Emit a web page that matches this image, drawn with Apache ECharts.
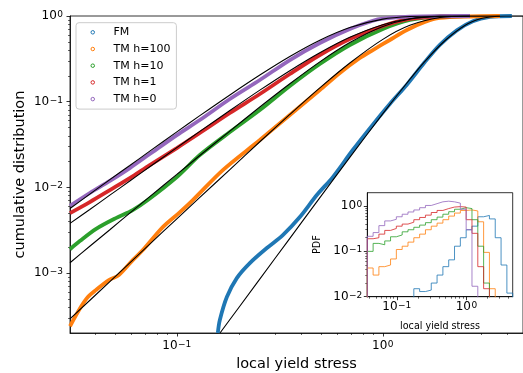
<!DOCTYPE html>
<html>
<head>
<meta charset="utf-8">
<script src="https://cdn.jsdelivr.net/npm/echarts@6/dist/echarts.min.js"></script>
<style>
  html, body { margin: 0; padding: 0; background: #fff; }
  #chart { width: 523px; height: 373px; }
</style>
</head>
<body>
<div id="chart"></div>
<script>
// ---- values ----
const seriesNames = ['FM', 'TM h=100', 'TM h=10', 'TM h=1', 'TM h=0'];

// cumulative distribution, [local yield stress, F]
const cdfFM = [[0.1581,0.0002],[0.1617,0.000283],[0.1749,0.000525],[0.1955,0.000874],[0.2261,0.001308],
  [0.2734,0.001959],[0.327,0.002778],[0.3955,0.004507],[0.4782,0.00814],[0.5719,0.0132],[0.7149,0.0273],
  [0.8943,0.054],[1.081,0.094],[1.308,0.158],[1.599,0.29],[1.891,0.46],[2.287,0.68],[2.735,0.87],
  [3.307,0.975],[4.228,1.0]];
const cdfH100 = [[0.0303,0.00024],[0.0342,0.000401],[0.037,0.000525],[0.0404,0.000633],[0.0468,0.000829],
  [0.0523,0.000948],[0.0611,0.001418],[0.0684,0.001856],[0.0855,0.003444],[0.1023,0.00502],[0.1196,0.00712],
  [0.1672,0.01594],[0.2529,0.0357],[0.3536,0.0699],[0.4944,0.1368],[0.6183,0.2161],[0.7732,0.3233],
  [0.8943,0.401],[1.081,0.5247],[1.308,0.6865],[1.599,0.851],[1.891,0.948],[2.644,0.987],[3.698,1.0]];
const cdfH10 = [[0.0303,0.0019],[0.0338,0.002363],[0.0404,0.003264],[0.0506,0.004386],[0.0611,0.005438],
  [0.0723,0.00712],[0.1,0.0132],[0.1293,0.02385],[0.1809,0.04426],[0.2529,0.0799],[0.3536,0.1524],
  [0.4944,0.2753],[0.6915,0.4586],[1.0,0.705],[1.352,0.898],[1.891,0.987],[2.644,1.0]];
const cdfH1 = [[0.0303,0.00502],[0.0378,0.00675],[0.0473,0.00931],[0.0591,0.01285],[0.0739,0.01823],
  [0.1,0.0288],[0.1293,0.0431],[0.1809,0.0738],[0.2529,0.1229],[0.3536,0.2104],[0.4944,0.3506],
  [0.6915,0.539],[1.0,0.764],[1.352,0.923],[1.891,0.987],[2.644,1.0]];
const cdfH0 = [[0.0303,0.0061],[0.0378,0.0086],[0.0473,0.0119],[0.0591,0.0168],[0.0739,0.0245],
  [0.1,0.0408],[0.1293,0.0611],[0.1809,0.1075],[0.2529,0.179],[0.3536,0.3065],[0.4944,0.484],
  [0.6915,0.705],[0.8943,0.88],[1.0,0.93],[1.352,0.985],[1.891,0.999],[2.644,1.0]];

// black fitted curves
const fitFM = [[0.162,0.0002],[0.2,0.000397],[0.3,0.00149],[0.4,0.0038],[0.5,0.00787],[0.7,0.0233],
  [1.0,0.0726],[1.3,0.162],[1.6,0.295],[2.0,0.514],[2.5,0.776],[3.0,0.933],[3.5,0.9887],[4.0,0.999],[4.79,1.0]];
const fitH100 = [[0.0303,0.000292],[0.0473,0.000797],[0.0739,0.002178],[0.1,0.0043],[0.1293,0.00763],
  [0.1809,0.01616],[0.2529,0.0341],[0.3536,0.071],[0.4944,0.145],[0.6915,0.283],[1.0,0.534],[1.352,0.778],
  [1.891,0.9594],[2.644,0.9989],[3.698,1.0]];
const fitH10 = [[0.0303,0.00132],[0.0378,0.002056],[0.0473,0.003209],[0.0591,0.005008],[0.0739,0.00782],
  [0.1,0.01417],[0.1293,0.02354],[0.1809,0.04542],[0.2529,0.0867],[0.3536,0.162],[0.4944,0.2919],
  [0.6915,0.49],[1.0,0.7546],[1.352,0.923],[1.891,0.9933],[2.644,1.0]];
const fitH1 = [[0.0303,0.0038],[0.0378,0.00552],[0.0473,0.00812],[0.0591,0.01187],[0.0739,0.0174],
  [0.1,0.02914],[0.1293,0.04503],[0.1809,0.0789],[0.2529,0.1364],[0.3536,0.2302],[0.4944,0.3729],
  [0.6915,0.565],[1.0,0.7926],[1.352,0.9293],[1.891,0.9911],[2.644,0.9998],[3.698,1.0]];
const fitH0 = [[0.0303,0.00567],[0.0378,0.00835],[0.0473,0.01233],[0.0591,0.018],[0.0739,0.0265],
  [0.1,0.04445],[0.1293,0.0687],[0.1809,0.1199],[0.2529,0.2047],[0.3536,0.337],[0.4944,0.5216],
  [0.6915,0.7337],[1.0,0.9192],[1.352,0.9859],[1.891,0.9995],[2.644,1.0]];

// inset: histogram bin edges and PDF per bin (0 = empty bin)
const binEdges = [0.0377,0.0457,0.0553,0.0671,0.0813,0.0985,0.1194,0.1447,0.1754,0.2126,0.2576,0.3122,
  0.3784,0.4586,0.5559,0.6736,0.8166,0.9897,1.1995,1.4538,1.762,2.1355,2.588,3.137,3.802,4.608];
const pdfFM = [0,0,0,0,0,0,0,0,0.015,0.013,0.014,0.02,0.03,0.046,0.065,0.13,0.2,0.3,0.36,0.58,0.62,0.52,0.2,0.05,0.012];
const pdfH100 = [0.043,0.03,0.046,0.05,0.068,0.11,0.13,0.16,0.2,0.24,0.3,0.36,0.42,0.5,0.6,0.7,0.8,0.82,0.78,0.45,0.095,0.015,0,0,0];
const pdfH10 = [0.1,0.15,0.14,0.17,0.21,0.23,0.27,0.3,0.34,0.38,0.43,0.5,0.57,0.66,0.75,0.85,0.92,0.88,0.5,0.13,0.02,0,0,0,0];
const pdfH1 = [0.19,0.2,0.24,0.29,0.32,0.36,0.4,0.44,0.5,0.56,0.63,0.72,0.8,0.88,0.95,0.97,0.95,0.5,0.25,0.046,0.015,0,0,0,0];
const pdfH0 = [0.215,0.26,0.37,0.47,0.51,0.58,0.66,0.74,0.82,0.92,1.03,1.13,1.24,1.28,1.24,1.16,0.85,0.3,0.017,0,0,0,0,0,0];

const mainXTicks = [0.1, 1];
const mainYTicks = [0.001, 0.01, 0.1, 1];
const mainXMinor = [0.04,0.05,0.06,0.07,0.08,0.09,0.2,0.3,0.4,0.5,0.6,0.7,0.8,0.9,2,3,4];
const mainYMinor = [0.0003,0.0004,0.0005,0.0006,0.0007,0.0008,0.0009,0.002,0.003,0.004,0.005,0.006,0.007,0.008,0.009,
  0.02,0.03,0.04,0.05,0.06,0.07,0.08,0.09,0.2,0.3,0.4,0.5,0.6,0.7,0.8,0.9];
const insetXTicks = [0.1, 1];
const insetYTicks = [0.01, 0.1, 1];
const insetXMinor = [0.04,0.05,0.06,0.07,0.08,0.09,0.2,0.3,0.4,0.5,0.6,0.7,0.8,0.9,2,3,4];
const insetYMinor = [0.02,0.03,0.04,0.05,0.06,0.07,0.08,0.09,0.2,0.3,0.4,0.5,0.6,0.7,0.8,0.9];

// ---- styling ----
const COLORS = ['#1f77b4', '#ff7f0e', '#2ca02c', '#d62728', '#9467bd'];
const FONT = 'DejaVu Sans';
const INK = '#000';

const cdfs = [cdfFM, cdfH100, cdfH10, cdfH1, cdfH0];
const fits = [fitFM, fitH100, fitH10, fitH1, fitH0];
const pdfs = [pdfFM, pdfH100, pdfH10, pdfH1, pdfH0];

function powLabel(v) {
  const e = Math.round(Math.log10(v));
  return '{b|10}{s|' + (e < 0 ? '\u2212' + (-e) : String(e)) + '}';
}
const powRich = {
  b: { fontSize: 12, fontFamily: FONT, color: INK, lineHeight: 12, verticalAlign: 'bottom' },
  s: { fontSize: 9, fontFamily: FONT, color: INK, lineHeight: 9, verticalAlign: 'top', padding: [0, 0, 6, 0.5] }
};

function majorAxis(grid, min, max, ticks, pos, margin, extra) {
  return Object.assign({
    type: 'log', logBase: 10, gridIndex: grid, min: min, max: max, position: pos,
    axisLine: { show: true, lineStyle: { color: INK, width: 0.8 } },
    axisTick: { show: true, inside: false, length: 3.5, customValues: ticks, lineStyle: { color: INK, width: 0.8 } },
    axisLabel: { show: true, customValues: ticks, margin: margin, formatter: powLabel, rich: powRich },
    splitLine: { show: false }, minorTick: { show: false }, minorSplitLine: { show: false },
    nameMoveOverlap: false
  }, extra || {});
}
function minorAxis(grid, min, max, ticks, pos, z) {
  return {
    type: 'log', logBase: 10, gridIndex: grid, min: min, max: max, position: pos, z: z,
    axisLine: { show: false },
    axisTick: { show: true, inside: false, length: 2, customValues: ticks, lineStyle: { color: INK, width: 0.6 } },
    axisLabel: { show: false }, splitLine: { show: false }
  };
}

// histogram outline as a step line
function stepPoints(vals) {
  const floor = 1e-4;
  const pts = [[binEdges[0], floor]];
  vals.forEach((v, i) => pts.push([binEdges[i], v > 0 ? v : floor]));
  const last = vals[vals.length - 1];
  pts.push([binEdges[binEdges.length - 1], last > 0 ? last : floor]);
  pts.push([binEdges[binEdges.length - 1], floor]);
  return pts;
}

const series = [];
cdfs.forEach((d, i) => series.push({
  name: seriesNames[i], type: 'line', xAxisIndex: 0, yAxisIndex: 0, data: d,
  showSymbol: false, smooth: 0.3, z: 2, silent: true,
  itemStyle: { color: COLORS[i] },
  lineStyle: { color: COLORS[i], width: 3.8 }
}));
fits.forEach((d, i) => series.push({
  name: 'fit ' + i, type: 'line', xAxisIndex: 0, yAxisIndex: 0, data: d,
  showSymbol: false, smooth: 0.3, z: 3, silent: true,
  lineStyle: { color: '#000', width: 1.1 }
}));
pdfs.forEach((d, i) => series.push({
  name: 'pdf ' + i, type: 'line', xAxisIndex: 2, yAxisIndex: 2, data: stepPoints(d),
  step: 'end', showSymbol: false, z: 12, silent: true,
  lineStyle: { color: COLORS[i], width: 1, opacity: 0.8 }
}));

const chart = echarts.init(document.getElementById('chart'), null, { renderer: 'canvas' });
chart.setOption({
  animation: false,
  backgroundColor: '#fff',
  textStyle: { fontFamily: FONT, color: INK },
  grid: [
    { left: 70, top: 16, width: 453, height: 317, show: true, borderColor: INK, borderWidth: 0.8,
      backgroundColor: 'transparent', containLabel: false, outerBoundsMode: 'none' },
    { left: 367.3, top: 192.7, width: 145.4, height: 104, show: true, borderColor: INK, borderWidth: 0.8,
      backgroundColor: '#fff', z: 10, containLabel: false, outerBoundsMode: 'none' }
  ],
  legend: {
    show: true, orient: 'vertical', left: 76, top: 22.7,
    data: seriesNames.map((n, i) => ({
      name: n, icon: 'circle',
      itemStyle: { color: 'rgba(0,0,0,0)', borderColor: COLORS[i], borderWidth: 1 }
    })),
    itemWidth: 3.5, itemHeight: 3.5, itemGap: 3.7,
    padding: [3.1, 6, 3.5, 14.5],
    backgroundColor: 'rgba(255,255,255,0.8)', borderColor: '#cccccc', borderWidth: 1, borderRadius: 3,
    textStyle: { fontSize: 11, fontFamily: FONT, color: INK, lineHeight: 13, padding: [0, 0, 0, 14] },
    selectedMode: false, z: 5
  },
  xAxis: [
    majorAxis(0, 0.0303, 4.79, mainXTicks, 'bottom', 7, {
      name: 'local yield stress', nameLocation: 'middle', nameGap: 23.5,
      nameTextStyle: { fontSize: 14.5, fontFamily: FONT, color: INK }
    }),
    minorAxis(0, 0.0303, 4.79, mainXMinor, 'bottom', 0),
    majorAxis(1, 0.0377, 4.608, insetXTicks, 'bottom', 4.5, {
      z: 11, name: 'local yield stress', nameLocation: 'middle', nameGap: 24.5,
      nameTextStyle: { fontSize: 9.6, fontFamily: FONT, color: INK }
    }),
    minorAxis(1, 0.0377, 4.608, insetXMinor, 'bottom', 11)
  ],
  yAxis: [
    majorAxis(0, 0.0002, 1, mainYTicks, 'left', 7, {
      name: 'cumulative distribution', nameLocation: 'middle', nameGap: 42.5, nameRotate: 90,
      nameTextStyle: { fontSize: 14.5, fontFamily: FONT, color: INK }
    }),
    minorAxis(0, 0.0002, 1, mainYMinor, 'left', 0),
    majorAxis(1, 0.01, 1.97, insetYTicks, 'left', 5, {
      z: 11, name: 'PDF', nameLocation: 'middle', nameGap: 45, nameRotate: 90,
      nameTextStyle: { fontSize: 9.6, fontFamily: FONT, color: INK }
    }),
    minorAxis(1, 0.01, 1.97, insetYMinor, 'left', 11)
  ],
  series: series
});
window.addEventListener('resize', () => chart.resize());
</script>
</body>
</html>
